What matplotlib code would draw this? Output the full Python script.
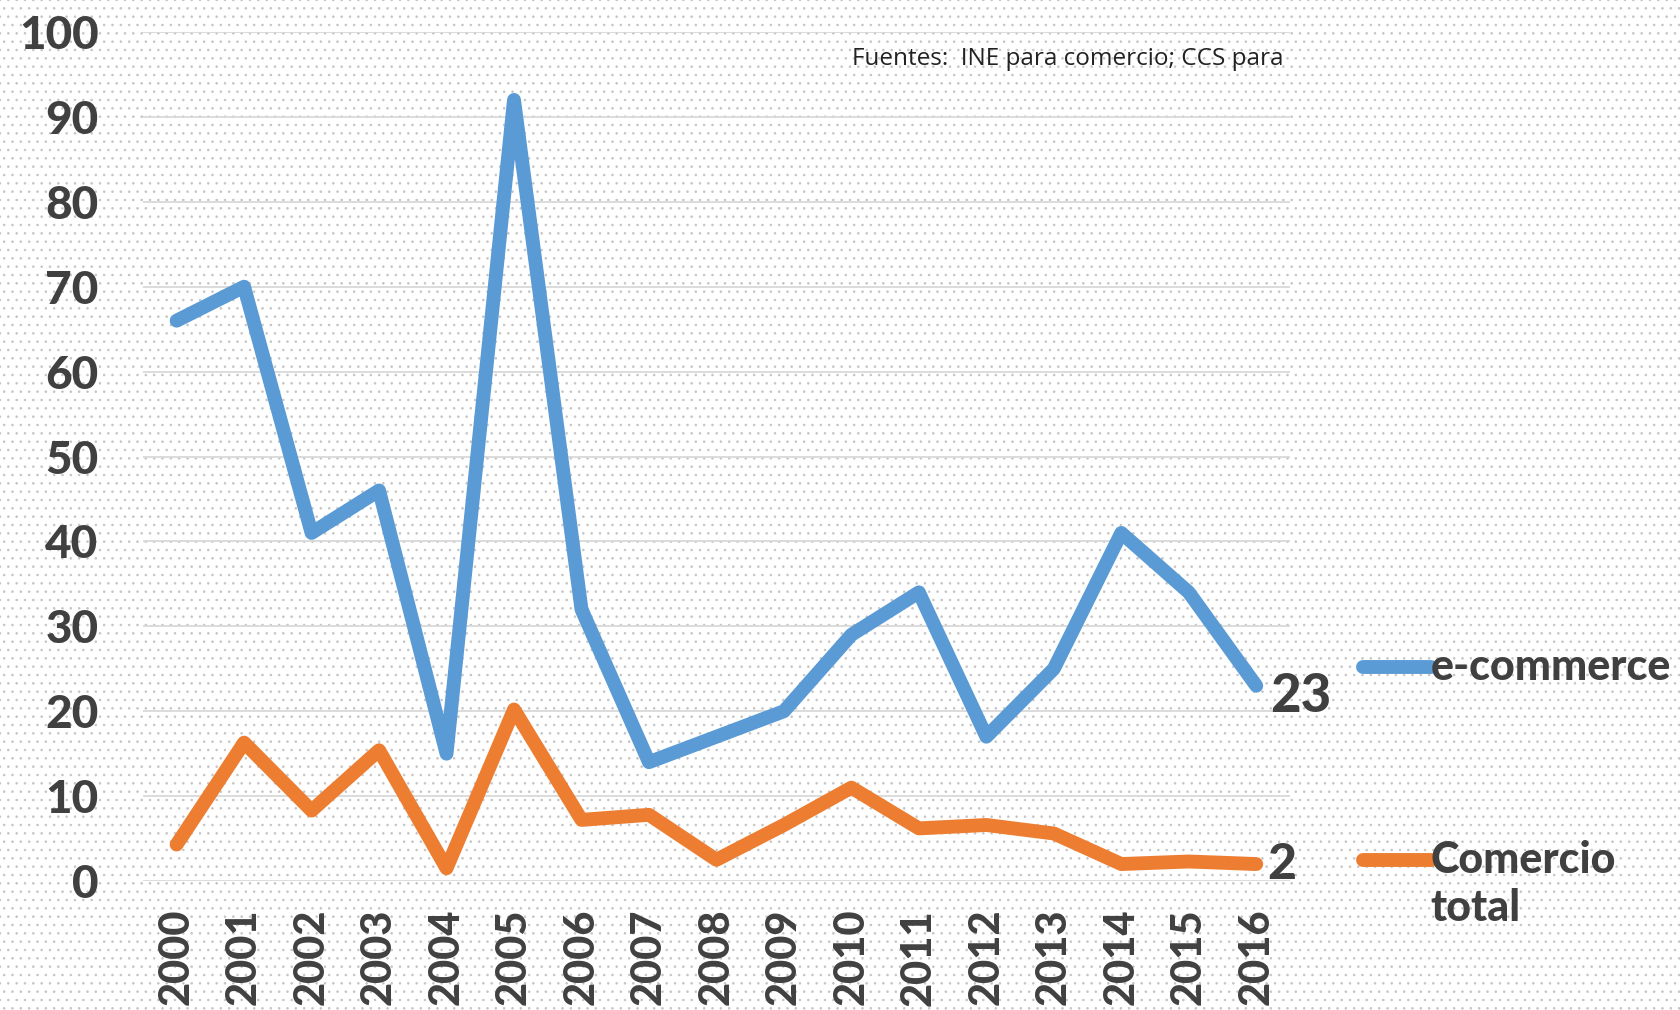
import matplotlib
matplotlib.use("Agg")
import matplotlib.pyplot as plt
from matplotlib.patches import Rectangle
from matplotlib.lines import Line2D

years = [str(y) for y in range(2000, 2017)]
ecommerce = [66, 70, 41, 46, 15, 92, 32, 14, 17, 20, 29, 34, 17, 25, 41, 34, 23]
comercio_total = [4.3, 16.3, 8.3, 15.4, 1.5, 20.2, 7.2, 7.8, 2.5, 6.6, 11, 6.2, 6.6, 5.6, 2, 2.3, 2]
yticks = [0, 10, 20, 30, 40, 50, 60, 70, 80, 90, 100]

BLUE = "#5B9BD5"
ORANGE = "#ED7D31"
TXT = "#404040"
FONT = "Lato"
W = "black"

plt.rcParams["hatch.linewidth"] = 0.6

fig = plt.figure(figsize=(16.81, 10.10), dpi=100)
fig.patch.set_facecolor("white")

# dotted paper background
bg = Rectangle((0, 0), 1, 1, transform=fig.transFigure, facecolor="white",
               edgecolor="#c4c4c4", linewidth=0, hatch="..", zorder=-10)
fig.patches.append(bg)

ax = fig.add_axes([0.085, 0.1277, 0.6824, 0.8406])
ax.set_facecolor("none")

x = list(range(len(years)))
ax.plot(x, ecommerce, color=BLUE, lw=10, solid_capstyle="round",
        solid_joinstyle="round", zorder=3)
ax.plot(x, comercio_total, color=ORANGE, lw=10, solid_capstyle="round",
        solid_joinstyle="round", zorder=3)

ax.set_xlim(-0.5, len(years) - 0.5)
ax.set_ylim(0, 100)
ax.set_yticks(yticks)
ax.set_xticks(x)
ax.set_xticklabels(years, rotation=90)
ax.grid(axis="y", color="#d9d9d9", lw=1.3)
ax.set_axisbelow(True)
for s in ax.spines.values():
    s.set_visible(False)
ax.tick_params(length=0)
ax.tick_params(axis="y", pad=32, labelsize=33, labelcolor=TXT)
ax.tick_params(axis="x", pad=20, labelsize=30, labelcolor=TXT)
for lab in ax.get_xticklabels() + ax.get_yticklabels():
    lab.set_fontfamily(FONT)
    lab.set_fontweight(W)

# end values
ax.annotate(str(ecommerce[-1]), (x[-1], ecommerce[-1]), xytext=(10, -8),
            textcoords="offset points", ha="left", va="center",
            fontsize=38, fontweight=W, family=FONT, color=TXT)
ax.annotate(str(round(comercio_total[-1])), (x[-1], comercio_total[-1]),
            xytext=(8, 0), textcoords="offset points", ha="left", va="center",
            fontsize=36, fontweight=W, family=FONT, color=TXT)

# legend
fig.lines.append(Line2D([0.811, 0.851], [0.3396, 0.3396], transform=fig.transFigure,
                        color=BLUE, lw=10, solid_capstyle="round"))
fig.lines.append(Line2D([0.811, 0.851], [0.1485, 0.1485], transform=fig.transFigure,
                        color=ORANGE, lw=10, solid_capstyle="round"))
fig.text(0.851, 0.3396, "e-commerce", ha="left", va="center", fontsize=31,
         fontweight=W, family=FONT, color=TXT)
fig.text(0.851, 0.1485, "Comercio", ha="left", va="center", fontsize=31,
         fontweight=W, family=FONT, color=TXT)
fig.text(0.851, 0.101, "total", ha="left", va="center", fontsize=31,
         fontweight=W, family=FONT, color=TXT)

fig.text(0.507, 0.9416, "Fuentes:  INE para comercio; CCS para", ha="left",
         va="center", fontsize=17.5, family="Open Sans", color="#222222")

fig.savefig("out.png", dpi=100)
